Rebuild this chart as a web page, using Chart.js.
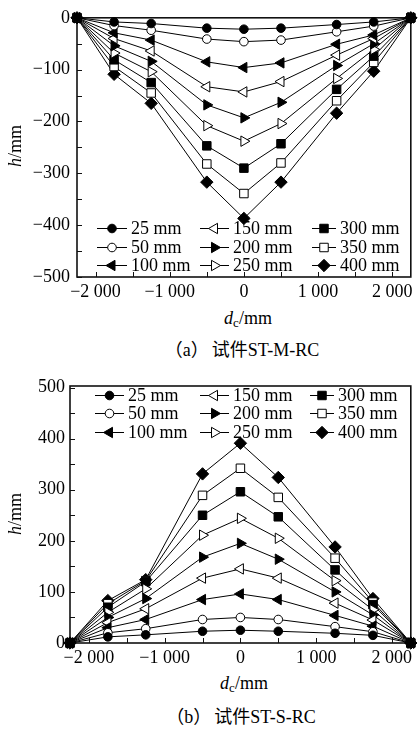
<!DOCTYPE html>
<html>
<head>
<meta charset="utf-8">
<script src="https://cdn.jsdelivr.net/npm/chart.js@4/dist/chart.umd.min.js"></script>
<style>
body{margin:0;background:#fff;width:418px;height:731px;position:relative;overflow:hidden;font-family:"Liberation Serif","Noto Sans CJK SC",serif;color:#000}
canvas{position:absolute;left:0}
.lbl{position:absolute;font-size:18px;white-space:nowrap;line-height:1;transform:translate(-50%,-50%)}
.rot{transform:translate(-50%,-50%) rotate(-90deg)}
sub{font-size:13px;vertical-align:-3px;line-height:0}
.cap span{margin-left:3px}
</style>
</head>
<body>
<canvas id="chartA" width="418" height="305" style="top:0"></canvas>
<canvas id="chartB" width="418" height="300" style="top:370px"></canvas>

<div class="lbl rot" style="left:15px;top:146px"><i>h</i>/mm</div>
<div class="lbl" style="left:248px;top:318px"><i>d</i><sub>c</sub>/mm</div>
<div class="lbl cap" style="left:242px;top:350px">（a）<span>试件ST-M-RC</span></div>

<div class="lbl rot" style="left:15px;top:514px"><i>h</i>/mm</div>
<div class="lbl" style="left:244px;top:683px"><i>d</i><sub>c</sub>/mm</div>
<div class="lbl cap" style="left:241px;top:717px">（b）<span>试件ST-S-RC</span></div>

<script>
// measuring positions along the section (mm)
const dc = [-2250, -1750, -1250, -500, 0, 500, 1250, 1750, 2250];
const depthLabels = ['25 mm', '50 mm', '100 mm', '150 mm', '200 mm', '250 mm', '300 mm', '350 mm', '400 mm'];

// (a) ST-M-RC
const stM_25  = [0, -8, -11, -20, -22, -20, -13, -8, 0];
const stM_50  = [0, -15, -24, -41, -46, -43, -27, -16, 0];
const stM_100 = [0, -29, -43, -85, -96, -87, -51, -33, 0];
const stM_150 = [0, -40, -64, -133, -143, -123, -72, -40, 0];
const stM_200 = [0, -54, -84, -168, -193, -163, -92, -50, 0];
const stM_250 = [0, -68, -104, -208, -238, -204, -117, -61, 0];
const stM_300 = [0, -81, -125, -247, -290, -243, -138, -74, 0];
const stM_350 = [0, -94, -145, -282, -339, -280, -160, -86, 0];
const stM_400 = [0, -109, -165, -317, -387, -317, -184, -103, 0];

// (b) ST-S-RC
const stS_25  = [0, 12, 16, 23, 25, 23, 19, 15, 0];
const stS_50  = [0, 20, 28, 46, 50, 46, 32, 22, 0];
const stS_100 = [0, 30, 46, 85, 96, 85, 54, 33, 0];
const stS_150 = [0, 40, 67, 127, 145, 127, 78, 45, 0];
const stS_200 = [0, 50, 87, 168, 195, 164, 100, 55, 0];
const stS_250 = [0, 60, 106, 211, 244, 205, 122, 65, 0];
const stS_300 = [0, 70, 120, 250, 296, 247, 143, 75, 0];
const stS_350 = [0, 77, 122, 289, 342, 285, 166, 80, 0];
const stS_400 = [0, 83, 124, 331, 391, 324, 188, 87, 0];

const xTicks = [-2000, -1500, -1000, -500, 0, 500, 1000, 1500, 2000];
const yTicksA = [-500, -450, -400, -350, -300, -250, -200, -150, -100, -50, 0];
const yTicksB = [0, 50, 100, 150, 200, 250, 300, 350, 400, 450, 500];

const seriesA = [stM_25, stM_50, stM_100, stM_150, stM_200, stM_250, stM_300, stM_350, stM_400];
const seriesB = [stS_25, stS_50, stS_100, stS_150, stS_200, stS_250, stS_300, stS_350, stS_400];

// marker look for each depth
const markers = [
  {style: 'circle', fill: '#000', rot: 0, r: 4.3},
  {style: 'circle', fill: '#fff', rot: 0, r: 4.3},
  {style: 'triangle', fill: '#000', rot: -90, r: 6},
  {style: 'triangle', fill: '#fff', rot: -90, r: 6},
  {style: 'triangle', fill: '#000', rot: 90, r: 6},
  {style: 'triangle', fill: '#fff', rot: 90, r: 6},
  {style: 'rect', fill: '#000', rot: 0, r: 6},
  {style: 'rect', fill: '#fff', rot: 0, r: 6},
  {style: 'rectRot', fill: '#000', rot: 0, r: 6.2}
];

const FONT = '"Liberation Serif", "Times New Roman", serif';

function fmt(v) {
  const s = Math.abs(v).toString().replace(/\B(?=(\d{3})+(?!\d))/g, ' ');
  return (v < 0 ? '\u2212' : '') + s;
}

// frame around the plot + inward ticks
const frameTicks = {
  id: 'frameTicks',
  beforeDatasetsDraw(chart) {
    const {ctx, chartArea: a, scales} = chart;
    ctx.save();
    ctx.strokeStyle = '#111';
    ctx.lineWidth = 1;
    ctx.beginPath();
    scales.x.ticks.forEach(t => {
      const px = Math.round(scales.x.getPixelForValue(t.value)) + 0.5;
      ctx.moveTo(px, a.bottom);
      ctx.lineTo(px, a.bottom - 5);
    });
    scales.y.ticks.forEach(t => {
      const py = Math.round(scales.y.getPixelForValue(t.value)) + 0.5;
      ctx.moveTo(a.left, py);
      ctx.lineTo(a.left + 5, py);
    });
    ctx.stroke();
    ctx.lineWidth = 1.6;
    ctx.strokeRect(a.left, a.top, a.right - a.left, a.bottom - a.top);
    ctx.restore();
  }
};

// legend in three columns, filled column by column
const boxLegend = {
  id: 'boxLegend',
  afterDatasetsDraw(chart, args, opts) {
    const ctx = chart.ctx;
    const big = {left: -1e4, right: 1e4, top: -1e4, bottom: 1e4};
    ctx.save();
    chart.data.datasets.forEach((ds, i) => {
      const col = Math.floor(i / 3), row = i % 3;
      const x0 = opts.lineX[col], tx = opts.textX[col], y = opts.rowY[row];
      ctx.strokeStyle = '#000';
      ctx.lineWidth = 1;
      ctx.beginPath();
      ctx.moveTo(x0, y + 0.5);
      ctx.lineTo(tx - 4, y + 0.5);
      ctx.stroke();
      const el = chart.getDatasetMeta(i).data[0];
      const ox = el.x, oy = el.y;
      el.x = (x0 + tx - 4) / 2;
      el.y = y + 0.5;
      el.draw(ctx, big);
      el.x = ox;
      el.y = oy;
      ctx.fillStyle = '#000';
      ctx.font = '18px ' + FONT;
      ctx.textBaseline = 'middle';
      ctx.fillText(ds.label, tx, y + 1);
    });
    ctx.restore();
  }
};

function buildDatasets(series) {
  return series.map((vals, i) => ({
    label: depthLabels[i],
    data: dc.map((x, j) => ({x: x, y: vals[j]})),
    borderColor: '#000',
    borderWidth: 1,
    pointStyle: markers[i].style,
    pointRotation: markers[i].rot,
    pointRadius: markers[i].r,
    pointBackgroundColor: markers[i].fill,
    pointBorderColor: '#000',
    pointBorderWidth: 1,
    showLine: true,
    clip: false
  }));
}

function buildChart(id, series, yMin, yMax, yTicks, pad, yWidth, xHeight, yPad, legend) {
  return new Chart(document.getElementById(id), {
    type: 'scatter',
    data: {datasets: buildDatasets(series)},
    options: {
      responsive: false,
      animation: false,
      layout: {padding: pad},
      plugins: {
        legend: {display: false},
        tooltip: {enabled: false},
        boxLegend: legend
      },
      scales: {
        x: {
          type: 'linear',
          min: -2250,
          max: 2250,
          grid: {display: false, drawTicks: false},
          border: {display: false},
          afterBuildTicks: s => { s.ticks = xTicks.map(v => ({value: v})); },
          afterFit: s => { s.height = xHeight; },
          ticks: {
            autoSkip: false,
            maxRotation: 0,
            padding: 4,
            color: '#000',
            font: {family: FONT, size: 18},
            callback: v => (v % 1000 === 0 ? fmt(v) : '')
          }
        },
        y: {
          type: 'linear',
          min: yMin,
          max: yMax,
          grid: {display: false, drawTicks: false},
          border: {display: false},
          afterBuildTicks: s => { s.ticks = yTicks.map(v => ({value: v})); },
          afterFit: s => { s.width = yWidth; },
          ticks: {
            autoSkip: false,
            padding: yPad,
            color: '#000',
            font: {family: FONT, size: 18},
            callback: v => (v % 100 === 0 ? fmt(v) : '')
          }
        }
      }
    },
    plugins: [frameTicks, boxLegend]
  });
}

buildChart('chartA', seriesA, -500, 0, yTicksA,
  {top: 15, right: 5, left: 0, bottom: 0}, 77, 28, 7,
  {lineX: [97, 200, 312], textX: [131, 233, 340], rowY: [228, 247, 265]});

buildChart('chartB', seriesB, 0, 503, yTicksB,
  {top: 16, right: 5, left: 0, bottom: 0}, 70, 27, 5,
  {lineX: [95, 200, 310], textX: [128, 233, 338], rowY: [25, 43, 62]});
</script>
</body>
</html>
